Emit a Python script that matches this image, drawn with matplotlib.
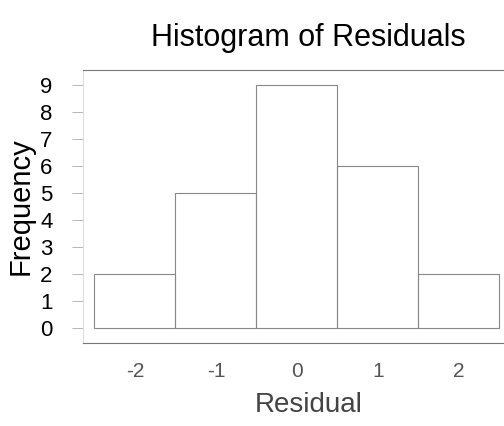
import matplotlib
matplotlib.use('Agg')
import matplotlib.pyplot as plt

plt.rcParams['font.family'] = ['Liberation Sans', 'DejaVu Sans']

# histogram of residuals: bin centres and counts
bin_centers = [-2, -1, 0, 1, 2]
counts = [2, 5, 9, 6, 2]
yticks = [0, 1, 2, 3, 4, 5, 6, 7, 8, 9]

fig = plt.figure(figsize=(5.04, 4.26), dpi=100)
ax = fig.add_axes([0.165, 0.195, 0.895, 0.641])

ax.bar(bin_centers, counts, width=1, fill=False, edgecolor='#888888', linewidth=0.8)

ax.set_xlim(-2.64, 2.93)
ax.set_ylim(-0.56, 9.56)
ax.set_xticks(bin_centers)
ax.set_xticklabels(['-2', '-1', '0', '1', '2'])
ax.set_yticks(yticks)

for s in ax.spines.values():
    s.set_color('#777777')
    s.set_linewidth(0.8)
ax.spines['left'].set_color('#dddddd')

ax.tick_params(axis='x', length=0, pad=14, labelsize=15, colors='#555555')
ax.tick_params(axis='y', length=8, width=0.6, color='#aaaaaa', pad=14, labelsize=16)

ax.set_title('Histogram of Residuals', fontsize=22, pad=17)
ax.set_xlabel('Residual', fontsize=20, labelpad=8, color='#444444')
ax.set_ylabel('Frequency', fontsize=21, labelpad=4)

fig.savefig('out.png', dpi=100)
